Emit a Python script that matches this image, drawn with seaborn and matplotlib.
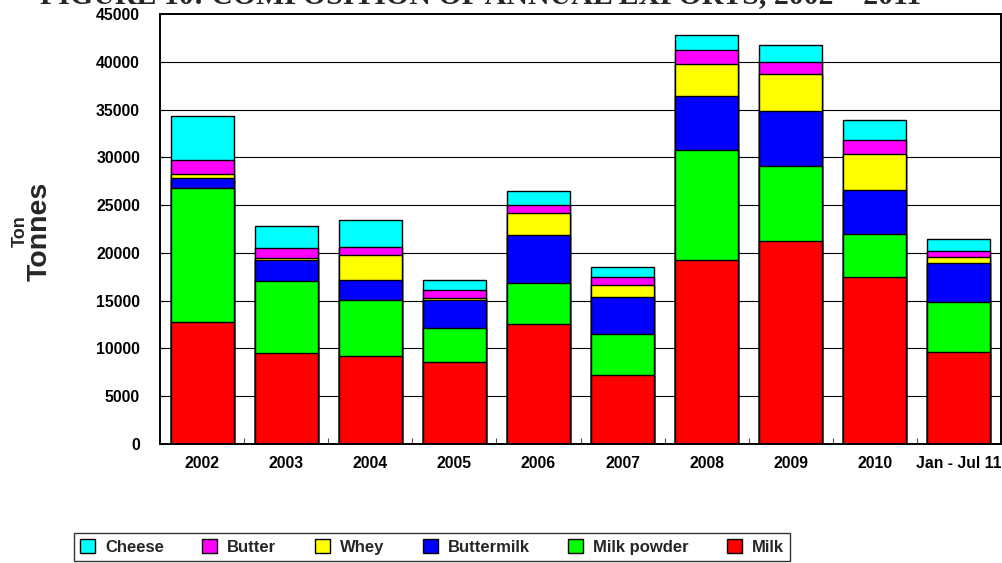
import numpy as np
import pandas as pd
import matplotlib
matplotlib.use("Agg")
import matplotlib.pyplot as plt
from matplotlib.patches import Patch
from matplotlib.ticker import FixedLocator
import seaborn as sns

# ---------------- data ----------------
years = ['2002', '2003', '2004', '2005', '2006', '2007', '2008', '2009', '2010', 'Jan - Jul 11']
milk = [12780, 9575, 9160, 8600, 12560, 7270, 19280, 21290, 17430, 9640]
milk_powder = [13960, 7490, 5920, 3520, 4320, 4210, 11450, 7830, 4590, 5250]
buttermilk = [1050, 2160, 2120, 2920, 5010, 3930, 5710, 5740, 4520, 4040]
whey = [420, 280, 2610, 200, 2330, 1220, 3340, 3830, 3790, 660]
butter = [1500, 980, 800, 840, 770, 870, 1500, 1320, 1460, 560]
cheese = [4600, 2370, 2860, 1120, 1530, 1010, 1500, 1740, 2120, 1320]

series_names = ['Milk', 'Milk powder', 'Buttermilk', 'Whey', 'Butter', 'Cheese']
series_values = [milk, milk_powder, buttermilk, whey, butter, cheese]
colors = ['#FF0000', '#00FF00', '#0000FF', '#FFFF00', '#FF00FF', '#00FFFF']

title = 'FIGURE 10: COMPOSITION OF ANNUAL EXPORTS, 2002 \u2013 2011'
y_ticks = list(range(0, 45001, 5000))

# ---------------- style ----------------
sns.set_theme(style='white')
plt.rcParams['font.family'] = ['Liberation Sans', 'DejaVu Sans']

W, H = 1003, 563
fig = plt.figure(figsize=(W / 100, H / 100), dpi=100)
ax = fig.add_axes([160 / W, 1 - 444 / H, (1001 - 160) / W, (444 - 14) / H])

cum = np.zeros(len(years))
df_stack = pd.DataFrame({'year': years})
for name, vals in zip(series_names, series_values):
    cum = cum + np.array(vals, dtype=float)
    df_stack[name] = cum.copy()

# draw from the tallest cumulative layer downward (overdraw stacking)
for name, col in reversed(list(zip(series_names, colors))):
    sns.barplot(data=df_stack, x='year', y=name, color=col, width=0.75,
                edgecolor='black', linewidth=1.0, saturation=1, ax=ax,
                order=years)

ax.set_ylim(0, 45000)
ax.set_xlim(-0.5, len(years) - 0.5)
ax.set_xlabel('')
ax.set_ylabel('')
ax.set_yticks(y_ticks)
ax.set_yticklabels([str(v) for v in y_ticks], fontsize=11.3, fontweight='bold')
ax.set_xticks(range(len(years)))
ax.set_xticklabels(years, fontsize=11.3, fontweight='bold')
ax.xaxis.set_minor_locator(FixedLocator(np.arange(0.5, len(years) - 0.5, 1.0)))
ax.tick_params(axis='x', which='major', length=0, pad=8.6, colors='black')
ax.tick_params(axis='x', which='minor', direction='in', length=4, width=0.8,
               bottom=True, color='#555555')
ax.tick_params(axis='y', which='major', direction='in', length=3, width=0.8,
               left=True, pad=14.4, colors='black')

for yv in y_ticks[1:-1]:
    ax.axhline(yv, color='black', linewidth=0.8, zorder=0)

for sp in ax.spines.values():
    sp.set_visible(True)
    sp.set_color('black')
    sp.set_linewidth(1.4)

# y labels
fig.text(20 / W, 1 - 231 / H, 'Ton', rotation=90, ha='center', va='center',
         fontsize=13, fontweight='bold')
fig.text(40 / W, 1 - 231 / H, 'Tonnes', rotation=90, ha='center', va='center',
         fontsize=20.5, fontweight='bold')

# title (clipped at top, as in reference)
fig.text(40 / W, 1 - 3.5 / H, title, ha='left', va='baseline',
         fontsize=21.5, fontweight='bold',
         family=['Liberation Serif', 'DejaVu Serif'])

# legend
handles = [Patch(facecolor=c, edgecolor='black', linewidth=1.0)
           for c in reversed(colors)]
labels = list(reversed(series_names))
leg = fig.legend(handles, labels, loc='center', bbox_to_anchor=(432 / W, 1 - 547 / H),
                 ncol=6, frameon=True, fancybox=False, shadow=False,
                 prop={'weight': 'bold', 'size': 12},
                 handlelength=0.9, handleheight=0.9, handletextpad=0.6,
                 columnspacing=2.3, borderpad=0.35, borderaxespad=0)
leg.get_frame().set_edgecolor('black')
leg.get_frame().set_linewidth(1.0)

fig.savefig('out.png', dpi=100)
